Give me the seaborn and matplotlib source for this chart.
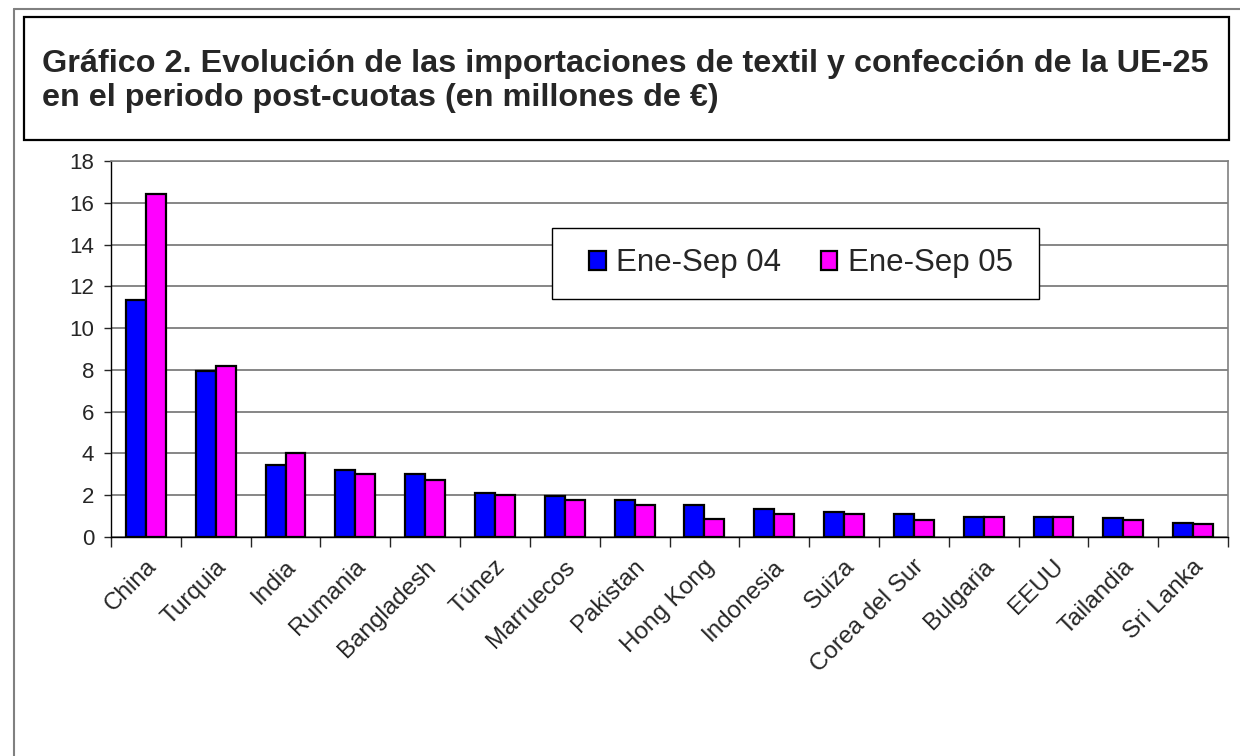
import pandas as pd
import seaborn as sns
import matplotlib.pyplot as plt
import matplotlib.transforms as mtransforms
from matplotlib.lines import Line2D
from matplotlib.patches import Rectangle
from matplotlib.ticker import MultipleLocator

# datos (millones de €)
paises = ["China", "Turquia", "India", "Rumania", "Bangladesh", "Túnez", "Marruecos",
          "Pakistan", "Hong Kong", "Indonesia", "Suiza", "Corea del Sur", "Bulgaria",
          "EEUU", "Tailandia", "Sri Lanka"]
periodos = ["Ene-Sep 04", "Ene-Sep 05"]
ene_sep_04 = [11.33, 7.95, 3.46, 3.20, 3.00, 2.13, 1.94, 1.75, 1.52, 1.36, 1.19,
              1.09, 0.98, 0.95, 0.91, 0.67]
ene_sep_05 = [16.44, 8.19, 4.00, 3.01, 2.72, 2.03, 1.76, 1.54, 0.88, 1.12, 1.10,
              0.80, 0.98, 0.98, 0.80, 0.61]
colores = ["#0000FF", "#FF00FF"]

df = pd.DataFrame({
    "pais": paises * 2,
    "periodo": [periodos[0]] * len(paises) + [periodos[1]] * len(paises),
    "valor": ene_sep_04 + ene_sep_05,
})

sns.set_style("white")
plt.rcParams["font.family"] = ["Liberation Sans", "DejaVu Sans"]

W, H = 1240, 756
fig = plt.figure(figsize=(W / 100, H / 100), dpi=100)
ax = fig.add_axes([111 / W, 1 - 537 / H, (1228 - 111) / W, (537 - 161) / H])

sns.barplot(data=df, x="pais", y="valor", hue="periodo", palette=colores,
            width=0.572, saturation=1, edgecolor="black", linewidth=1.6, ax=ax)

# ejes estilo Excel
ax.set_xlim(-0.5, len(paises) - 0.5)
ax.set_ylim(0, 18)
ax.yaxis.set_major_locator(MultipleLocator(2))
ax.yaxis.grid(True, color="#666666", linewidth=1.1)
ax.set_axisbelow(True)
ax.set_xlabel("")
ax.set_ylabel("")
for s in ["top", "right"]:
    ax.spines[s].set_color("#808080")
    ax.spines[s].set_linewidth(1.2)
for s in ["left", "bottom"]:
    ax.spines[s].set_color("black")
    ax.spines[s].set_linewidth(1)
ax.tick_params(axis="y", left=True, length=5, width=1, labelsize=16, pad=7)
ax.tick_params(axis="x", which="major", bottom=False, length=0, labelsize=17.5, pad=19)
ax.set_xticks(range(len(paises)))
ax.set_xticklabels(paises, rotation=45, ha="right", va="center", rotation_mode="anchor")
desplaza = mtransforms.ScaledTranslation(7 / 100, 0, fig.dpi_scale_trans)
for lab in ax.get_xticklabels():
    lab.set_transform(lab.get_transform() + desplaza)
ax.set_xticks([i - 0.5 for i in range(len(paises) + 1)], minor=True)
ax.tick_params(axis="x", which="minor", bottom=True, length=7, width=1)

# leyenda con recuadro propio
sns.move_legend(ax, loc="center", bbox_to_anchor=(801 / W, 1 - 263.5 / H),
                bbox_transform=fig.transFigure, ncol=2, title=None, frameon=False,
                fontsize=22.5, handlelength=0.52, handleheight=0.52, handletextpad=0.35,
                columnspacing=1.25, borderpad=0)
ax.add_patch(Rectangle((552 / W, 1 - 299 / H), (1039 - 552) / W, (299 - 228) / H,
                       transform=fig.transFigure, facecolor="white", edgecolor="black",
                       linewidth=1, zorder=4, clip_on=False))

# recuadro del título y marco exterior
fig.add_artist(Rectangle((24 / W, 1 - 140 / H), (1229 - 24) / W, (140 - 17) / H,
                         transform=fig.transFigure, fill=False, edgecolor="black", linewidth=1.6))
fig.add_artist(Line2D([14 / W, 14 / W], [0, 1 - 9 / H], transform=fig.transFigure,
                      color="#808080", linewidth=1.5))
fig.add_artist(Line2D([14 / W, 1], [1 - 9 / H, 1 - 9 / H], transform=fig.transFigure,
                      color="#808080", linewidth=1.5))
fig.text(42 / W, 1 - 72 / H,
         "Gráfico 2. Evolución de las importaciones de textil y confección de la UE-25",
         fontsize=23.3, fontweight="bold", va="baseline")
fig.text(42 / W, 1 - 106 / H, "en el periodo post-cuotas (en millones de €)",
         fontsize=23.3, fontweight="bold", va="baseline")

fig.savefig("out.png", dpi=100, facecolor="white")
